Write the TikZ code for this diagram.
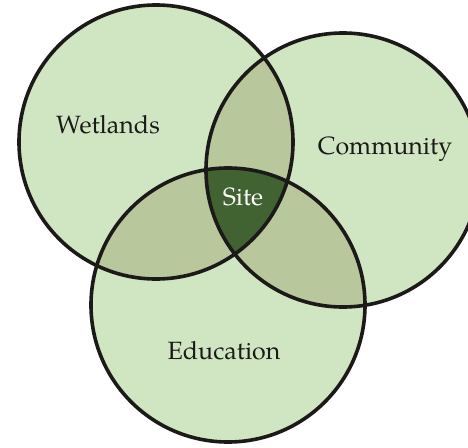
\documentclass[tikz,border=0pt]{standalone}
\usepackage{fontspec}
\setmainfont{texgyrepagella-regular.otf}
\definecolor{lightg}{RGB}{208,230,194}
\definecolor{midg}{RGB}{184,199,156}
\definecolor{darkg}{RGB}{65,99,49}
\definecolor{edge}{RGB}{28,26,24}
\begin{document}
\begin{tikzpicture}[x=1pt,y=-1pt,
  ring/.style={draw=edge,line width=3.6pt},
  lbl/.style={font=\fontsize{25}{28}\selectfont,text=edge,inner sep=0pt}]
\useasboundingbox (0,0) rectangle (468,447);
\def\R{137}
\coordinate (cw) at (156,142);
\coordinate (cc) at (343,170);
\coordinate (ce) at (228,305);
\begin{scope}
\clip (0,0) rectangle (468,447);
\fill[lightg] (cw) circle (\R);
\fill[lightg] (cc) circle (\R);
\fill[lightg] (ce) circle (\R);
\begin{scope}\clip (cw) circle (\R); \fill[midg] (cc) circle (\R); \fill[midg] (ce) circle (\R);\end{scope}
\begin{scope}\clip (cc) circle (\R); \fill[midg] (ce) circle (\R);\end{scope}
\begin{scope}\clip (cw) circle (\R); \clip (cc) circle (\R); \fill[darkg] (ce) circle (\R);\end{scope}
\draw[ring] (cw) circle (\R);
\draw[ring] (cc) circle (\R);
\draw[ring] (ce) circle (\R);
\end{scope}
\node[lbl] (wet) at (108,125) {Wetlands};
\node[lbl] (com) at (385,149) {Community};
\node[lbl] (edu) at (224,351) {Education};
\node[lbl,text=white] (site) at (243,197) {Site};
\end{tikzpicture}
\end{document}
